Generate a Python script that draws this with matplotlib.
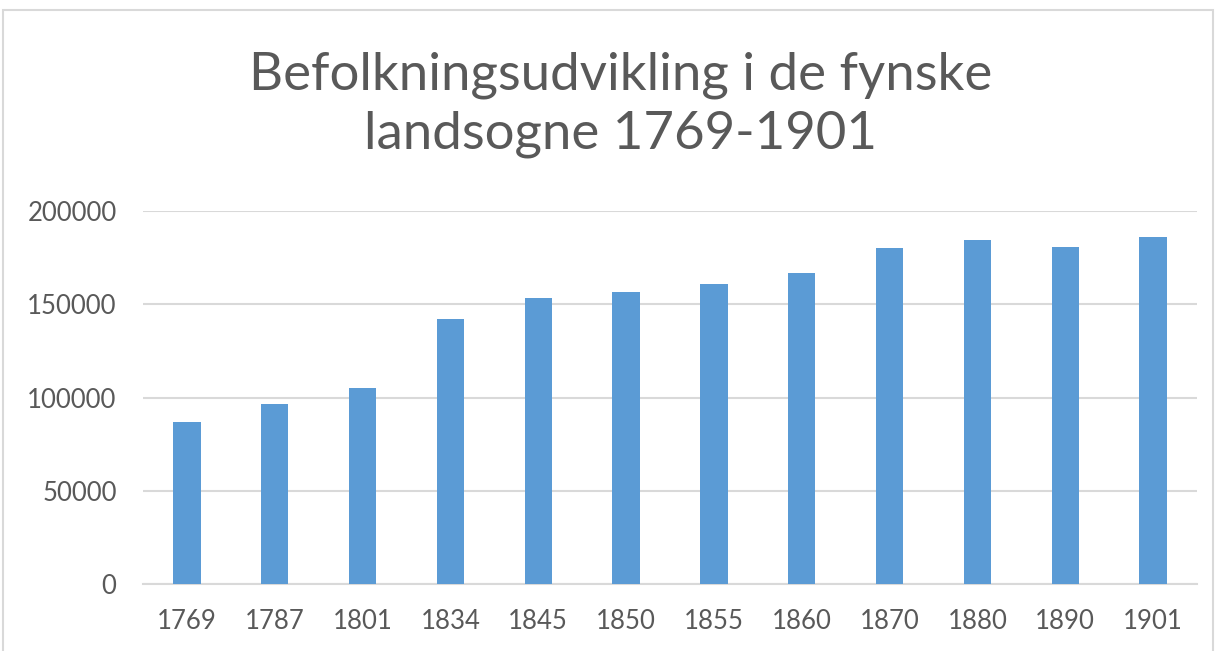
import matplotlib.pyplot as plt
from matplotlib.patches import Rectangle

# data
years = ["1769", "1787", "1801", "1834", "1845", "1850",
         "1855", "1860", "1870", "1880", "1890", "1901"]
population = [86700, 96300, 105200, 141900, 153400, 156600,
              160800, 166700, 179900, 184300, 180800, 186300]
y_ticks = [0, 50000, 100000, 150000, 200000]

TEXT = "#595959"
BAR = "#5B9BD5"
GRID = "#D9D9D9"

plt.rcParams["font.family"] = ["Lato", "DejaVu Sans"]

fig = plt.figure(figsize=(12.22, 6.51), dpi=100)
ax = fig.add_axes([143 / 1222, 1 - 584 / 651, 1054 / 1222, (584 - 211) / 651])

x = range(len(years))
ax.bar(x, population, width=0.31, color=BAR, zorder=3)

ax.set_xlim(-0.5, len(years) - 0.5)
ax.set_ylim(0, 200000)
ax.set_yticks(y_ticks)
ax.set_yticklabels([str(v) for v in y_ticks])
ax.set_xticks(list(x))
ax.set_xticklabels(years)
ax.yaxis.grid(True, color=GRID, linewidth=1.5, zorder=0)
ax.tick_params(axis="both", length=0, labelsize=18.5, labelcolor=TEXT)
ax.tick_params(axis="x", pad=18)
ax.tick_params(axis="y", pad=19)
for side in ["top", "right", "left"]:
    ax.spines[side].set_visible(False)
ax.spines["bottom"].set_color(GRID)
ax.spines["bottom"].set_linewidth(1.5)

fig.text(621 / 1222, 1 - 105 / 651, "Befolkningsudvikling i de fynske\nlandsogne 1769-1901",
         ha="center", va="center", fontsize=38, color=TEXT, linespacing=1.3)

# light chart-area border
fig.patches.append(Rectangle((3 / 1222, -0.01), 1210 / 1222, 1 - 10 / 651 + 0.01,
                             transform=fig.transFigure, fill=False,
                             edgecolor="#D9D9D9", linewidth=1.5))

fig.savefig("out.png", dpi=100)
